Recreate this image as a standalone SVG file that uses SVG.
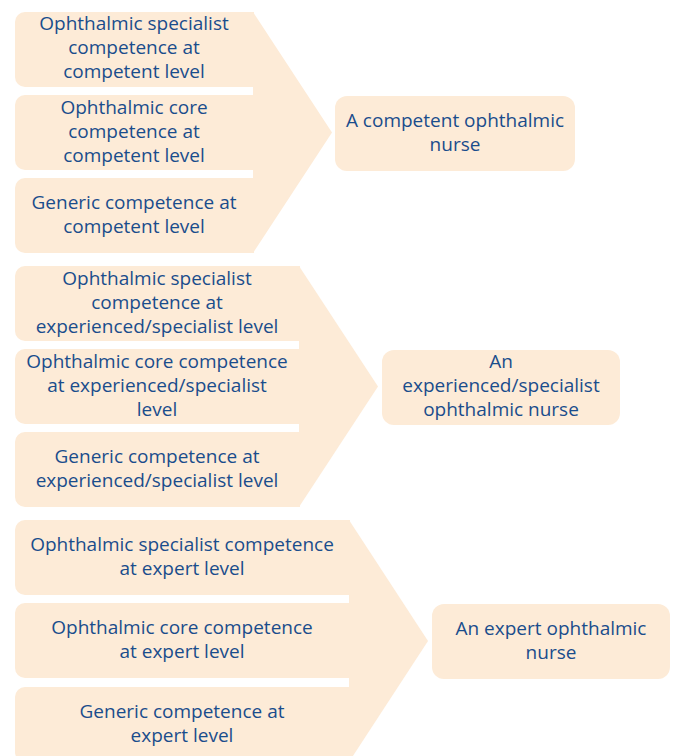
<svg xmlns="http://www.w3.org/2000/svg" width="673" height="756" viewBox="0 0 673 756">
<style>
.sh{fill:#fdebd7;}
.t{font-family:"Open Sans","Liberation Sans",sans-serif;font-size:19px;fill:#1a4d8c;text-anchor:middle;}
</style>
<rect width="673" height="756" fill="#ffffff"/>
<g id="connectors">
<polygon class="sh" points="253,12 332,132.5 253,253"/>
<polygon class="sh" points="299,266 378,386.5 299,507"/>
<polygon class="sh" points="349,520 428,641 349,762"/>
</g>
<g id="g1a"><path class="sh" d="M25,12H254V87H25A10,10 0 0 1 15,77V22A10,10 0 0 1 25,12Z"/>
<text class="t" x="134" y="30">Ophthalmic specialist</text><text class="t" x="134" y="54">competence at</text><text class="t" x="134" y="78">competent level</text></g>
<g id="g1b"><path class="sh" d="M25,95H254V170H25A10,10 0 0 1 15,160V105A10,10 0 0 1 25,95Z"/>
<text class="t" x="134" y="114">Ophthalmic core</text><text class="t" x="134" y="138">competence at</text><text class="t" x="134" y="162">competent level</text></g>
<g id="g1c"><path class="sh" d="M25,178H254V253H25A10,10 0 0 1 15,243V188A10,10 0 0 1 25,178Z"/>
<text class="t" x="134" y="209">Generic competence at</text><text class="t" x="134" y="233">competent level</text></g>
<g id="r1"><rect class="sh" x="335" y="96" width="240" height="75" rx="12"/>
<text class="t" x="455" y="127">A competent ophthalmic</text><text class="t" x="455" y="151">nurse</text></g>

<g id="g2a"><path class="sh" d="M25,266H300V341H25A10,10 0 0 1 15,331V276A10,10 0 0 1 25,266Z"/>
<text class="t" x="157" y="285">Ophthalmic specialist</text><text class="t" x="157" y="309">competence at</text><text class="t" x="157" y="333">experienced/specialist level</text></g>
<g id="g2b"><path class="sh" d="M25,349H300V424H25A10,10 0 0 1 15,414V359A10,10 0 0 1 25,349Z"/>
<text class="t" x="157" y="368">Ophthalmic core competence</text><text class="t" x="157" y="392">at experienced/specialist</text><text class="t" x="157" y="416">level</text></g>
<g id="g2c"><path class="sh" d="M25,432H300V507H25A10,10 0 0 1 15,497V442A10,10 0 0 1 25,432Z"/>
<text class="t" x="157" y="463">Generic competence at</text><text class="t" x="157" y="487">experienced/specialist level</text></g>
<g id="r2"><rect class="sh" x="382" y="350" width="238" height="75" rx="12"/>
<text class="t" x="501" y="368">An</text><text class="t" x="501" y="392">experienced/specialist</text><text class="t" x="501" y="416">ophthalmic nurse</text></g>

<g id="g3a"><path class="sh" d="M25,520H350V595H25A10,10 0 0 1 15,585V530A10,10 0 0 1 25,520Z"/>
<text class="t" x="182" y="551">Ophthalmic specialist competence</text><text class="t" x="182" y="575">at expert level</text></g>
<g id="g3b"><path class="sh" d="M25,603H350V678H25A10,10 0 0 1 15,668V613A10,10 0 0 1 25,603Z"/>
<text class="t" x="182" y="634">Ophthalmic core competence</text><text class="t" x="182" y="658">at expert level</text></g>
<g id="g3c"><path class="sh" d="M25,687H350V762H25A10,10 0 0 1 15,752V697A10,10 0 0 1 25,687Z"/>
<text class="t" x="182" y="718">Generic competence at</text><text class="t" x="182" y="742">expert level</text></g>
<g id="r3"><rect class="sh" x="432" y="604" width="238" height="75" rx="12"/>
<text class="t" x="551" y="635">An expert ophthalmic</text><text class="t" x="551" y="659">nurse</text></g>
</svg>
